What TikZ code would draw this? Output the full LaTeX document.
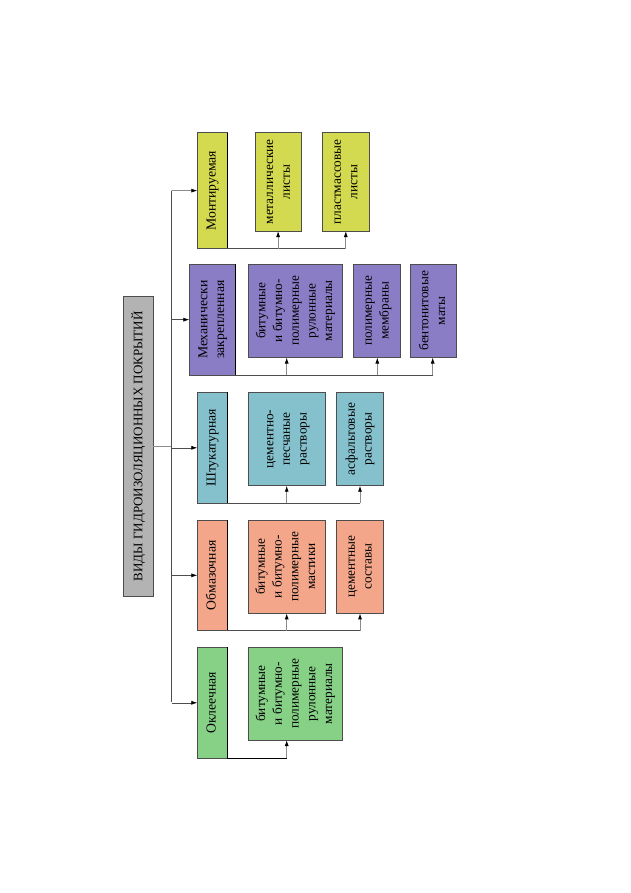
\documentclass[tikz,border=0pt]{standalone}
\usepackage{fontspec}
\setmainfont{Liberation Serif}
\usetikzlibrary{arrows.meta,calc}
\definecolor{cY}{HTML}{D4DA50}
\definecolor{cP}{HTML}{8A7DC6}
\definecolor{cT}{HTML}{85C1CC}
\definecolor{cS}{HTML}{F3A68A}
\definecolor{cG}{HTML}{86D186}
\definecolor{cGr}{HTML}{B3B3B3}
\definecolor{cB}{HTML}{4D4D4D}
\definecolor{cL}{HTML}{8C8C8C}
\newcommand{\vt}[1]{\rotatebox{90}{\begin{tabular}{@{}c@{}}#1\end{tabular}}}
\begin{document}
\begin{tikzpicture}[x=1pt,y=-1pt,
  box/.style={draw=cB,line width=0.6pt,inner sep=0pt,outer sep=0pt,anchor=north west,
    font=\fontsize{13.3}{16.7}\selectfont},
  catbox/.style={box,font=\fontsize{13.7}{16.7}\selectfont},
  dline/.style={draw=cB,line width=0.6pt},
  gline/.style={draw=cL,line width=0.9pt},
  arr/.style={draw=cB,line width=0.6pt,-{Latex[length=6pt,width=4pt,color=black]}},
  stem/.style={draw=cL,line width=0.9pt,-{Latex[length=6pt,width=4pt,color=black]}},
  shade/.style={draw=black,line width=1.4pt}]
\useasboundingbox[fill=white] (0,0) rectangle (630,893);

% title
\node[box,fill=cGr,minimum width=30pt,minimum height=300.7pt,font=\fontsize{13}{15}\selectfont] (title) at (123.3,296) {\rotatebox{90}{ВИДЫ ГИДРОИЗОЛЯЦИОННЫХ ПОКРЫТИЙ}};

% row 1: Монтируемая
\node[catbox,fill=cY,minimum width=30pt,minimum height=115.8pt] (mont) at (197.3,132.7) {\vt{Монтируемая}};
\node[box,fill=cY,minimum width=46.2pt,minimum height=98.3pt] (met) at (255,132.7) {\vt{металлические\\листы}};
\node[box,fill=cY,minimum width=47pt,minimum height=98.3pt] (pla) at (322.3,132.7) {\vt{пластмассовые\\листы}};

% row 2: Механически закрепленная
\node[catbox,fill=cP,minimum width=46.4pt,minimum height=111.3pt] (mech) at (189.3,264) {\vt{Механически\\закрепленная}};
\node[box,fill=cP,minimum width=94.4pt,minimum height=93.5pt] (mrul) at (248.3,264) {\vt{битумные\\и битумно-\\полимерные\\рулонные\\материалы}};
\node[box,fill=cP,minimum width=47pt,minimum height=93.5pt] (mem) at (353.5,264) {\vt{полимерные\\мембраны}};
\node[box,fill=cP,minimum width=46.5pt,minimum height=93.5pt] (ben) at (410.2,264) {\vt{бентонитовые\\маты}};

% row 3: Штукатурная
\node[catbox,fill=cT,minimum width=30pt,minimum height=111pt] (sht) at (197.3,392.3) {\vt{Штукатурная}};
\node[box,fill=cT,minimum width=76.7pt,minimum height=93.4pt] (cps) at (248.3,392.3) {\vt{цементно-\\песчаные\\растворы}};
\node[box,fill=cT,minimum width=46.6pt,minimum height=93.4pt] (asf) at (336.7,392.3) {\vt{асфальтовые\\растворы}};

% row 4: Обмазочная
\node[catbox,fill=cS,minimum width=30pt,minimum height=110.7pt] (obm) at (197.3,520) {\vt{Обмазочная}};
\node[box,fill=cS,minimum width=76.7pt,minimum height=93.3pt] (mast) at (248.3,520) {\vt{битумные\\и битумно-\\полимерные\\мастики}};
\node[box,fill=cS,minimum width=46.6pt,minimum height=93.3pt] (cem) at (336.7,520) {\vt{цементные\\составы}};

% row 5: Оклеечная
\node[catbox,fill=cG,minimum width=30pt,minimum height=111pt] (okl) at (197.3,647.3) {\vt{Оклеечная}};
\node[box,fill=cG,minimum width=94pt,minimum height=92.7pt] (grul) at (248.3,647.3) {\vt{битумные\\и битумно-\\полимерные\\рулонные\\материалы}};

% shaded right edges of category boxes
\foreach \n in {mont,mech,sht,obm,okl}{\draw[shade] (\n.north east) -- (\n.south east);}

% trunk
\coordinate (tTop) at (171.7,190.7);
\coordinate (tBot) at (171.7,701.7);
\coordinate (c1) at (286.7,0);
\draw[gline] (title.east) -- (title.east -| tTop);
\draw[dline] (tTop) -- (tBot);
\draw[arr] (tTop) -- (mont.west);
\draw[arr] (mech.west -| tTop) -- (mech.west);
\draw[arr] (sht.west -| tTop) -- (sht.west);
\draw[arr] (obm.west -| tTop) -- (obm.west);
\draw[arr] (okl.west -| tTop) -- (okl.west);

% row 1 connectors
\draw[dline] (mont.south east) -- (mont.south east -| pla.south);
\draw[stem] (mont.south east -| met.south) -- (met.south);
\draw[stem] (mont.south east -| pla.south) -- (pla.south);

% row 2 connectors
\draw[dline] (mech.south east) -- (mech.south east -| 432.7,0);
\draw[stem] (mech.south east -| c1) -- (mrul.south -| c1);
\draw[stem] (mech.south east -| 377.3,0) -- (mem.south -| 377.3,0);
\draw[stem] (mech.south east -| 432.7,0) -- (ben.south -| 432.7,0);

% row 3 connectors
\draw[dline] (sht.south east) -- (sht.south east -| asf.south);
\draw[stem] (sht.south east -| c1) -- (cps.south -| c1);
\draw[stem] (sht.south east -| asf.south) -- (asf.south);

% row 4 connectors
\draw[dline] (obm.south east) -- (obm.south east -| cem.south);
\draw[stem] (obm.south east -| c1) -- (mast.south -| c1);
\draw[stem] (obm.south east -| cem.south) -- (cem.south);

% row 5 connectors
\draw[draw=black,line width=1.6pt] (okl.south east) -- (okl.south east -| c1);
\draw[stem] (okl.south east -| c1) -- (grul.south -| c1);
\end{tikzpicture}
\end{document}
